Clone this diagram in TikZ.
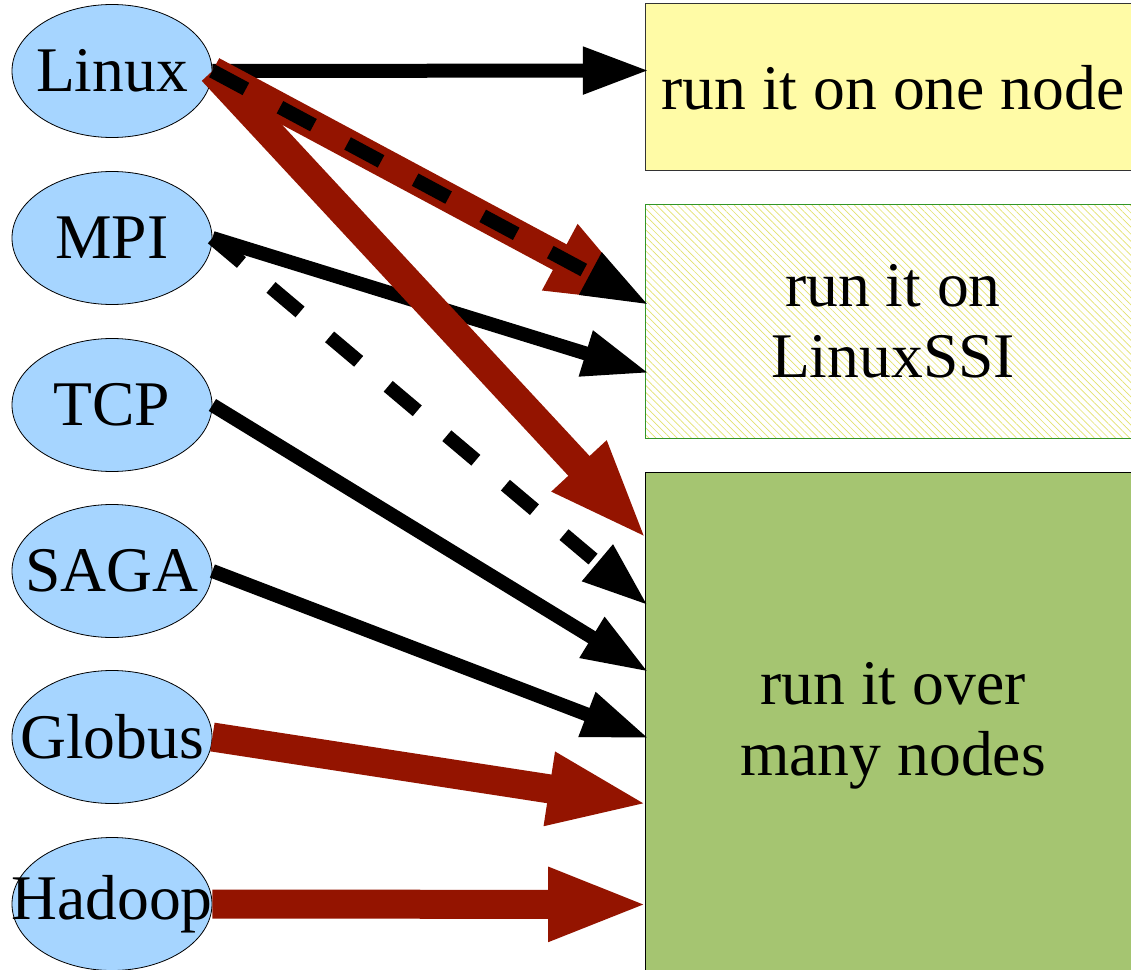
\documentclass[tikz,border=0pt]{standalone}
\usepackage{fontspec}
\IfFontExistsTF{LiberationSerif-Regular.ttf}
  {\newfontfamily\timesfont{LiberationSerif-Regular.ttf}}
  {\let\timesfont\rmfamily}
\usetikzlibrary{arrows.meta,shapes.geometric,patterns.meta,calc}
\definecolor{ellblue}{RGB}{166,213,255}
\definecolor{darkred}{RGB}{148,20,0}
\definecolor{boxyellow}{RGB}{255,251,166}
\definecolor{boxgreen}{RGB}{165,197,113}
\definecolor{hatchyellow}{RGB}{228,226,110}
\definecolor{edgegreen}{RGB}{50,150,40}
\begin{document}
\begin{tikzpicture}[x=0.75pt,y=-0.75pt,
  txt/.style={font=\timesfont\fontsize{47.7pt}{53.5pt}\selectfont},
  soft/.style={ellipse, draw=black, line width=0.6pt, fill=ellblue,
    minimum width=150pt, minimum height=99.75pt, inner sep=0pt},
  target/.style={txt, rectangle, inner sep=0pt, minimum width=372pt, align=center},
  blackarrow/.style={line width=10.5pt, draw=black, shorten >=-3.75pt,
    -{Triangle[length=50pt,width=33pt]}},
  redarrow/.style={line width=21.75pt, draw=darkred, shorten >=-3.75pt,
    -{Triangle[length=76pt,width=50pt]}},
  dasharrow/.style={blackarrow, dash pattern=on 28.5pt off 29pt}]

\clip (0,0) rectangle (1131,970);
\fill[white] (0,0) rectangle (1131,970);

% source ellipses
\node[soft, label={[txt]center:Linux}] (lin) at (112,71) {};
\node[soft, label={[txt]center:MPI}] (mpi) at (112,238) {};
\node[soft, label={[txt]center:TCP}] (tcp) at (112,405) {};
\node[soft, label={[txt]center:SAGA}] (saga) at (112,571) {};
\node[soft, label={[txt]center:Globus}] (glo) at (112,737) {};
\node[soft, label={[txt]center:Hadoop}] (had) at (112,904) {};

% target boxes
\node[target, minimum height=125.25pt, fill=boxyellow, draw=black!80, line width=0.75pt]
  (b1) at (893,87.5) {run it on one node};
\node[target, minimum height=175.5pt, draw=edgegreen, line width=0.75pt,
  pattern={Lines[angle=-45,distance=3.75pt,line width=0.5pt]}, pattern color=hatchyellow]
  (b2) at (893,321) {run it on\\LinuxSSI};
\node[target, minimum height=381pt, fill=boxgreen, draw=black, line width=0.75pt]
  (b3) at (893,726) {run it over\\many nodes};

% arrow end points on the box edges
\coordinate (t1) at ($(b1.north west)+(0,67)$);
\coordinate (t2a) at ($(b2.north west)+(0,99)$);
\coordinate (t2b) at ($(b2.north west)+(0,168)$);
\coordinate (t3a) at ($(b3.north west)+(0,65)$);
\coordinate (t3b) at ($(b3.north west)+(0,131)$);
\coordinate (t3c) at ($(b3.north west)+(0,198)$);
\coordinate (t3d) at ($(b3.north west)+(0,265)$);
\coordinate (t3e) at ($(b3.north west)+(0,332)$);
\coordinate (t3f) at ($(b3.north west)+(0,433)$);

% connectors
\draw[blackarrow] (lin.east) -- (t1);
\draw[blackarrow] (mpi.east) -- (t2b);
\draw[blackarrow] (tcp.east) -- (t3c);
\draw[blackarrow] (saga.east) -- (t3d);
\draw[dasharrow] (mpi.east) -- (t3b);
\draw[redarrow] (glo.east) -- (t3e);
\draw[redarrow] (had.east) -- (t3f);
\draw[redarrow] (lin.east) -- (t3a);
\draw[redarrow] (lin.east) -- (t2a);
\draw[dasharrow] (lin.east) -- (t2a);
\end{tikzpicture}
\end{document}
